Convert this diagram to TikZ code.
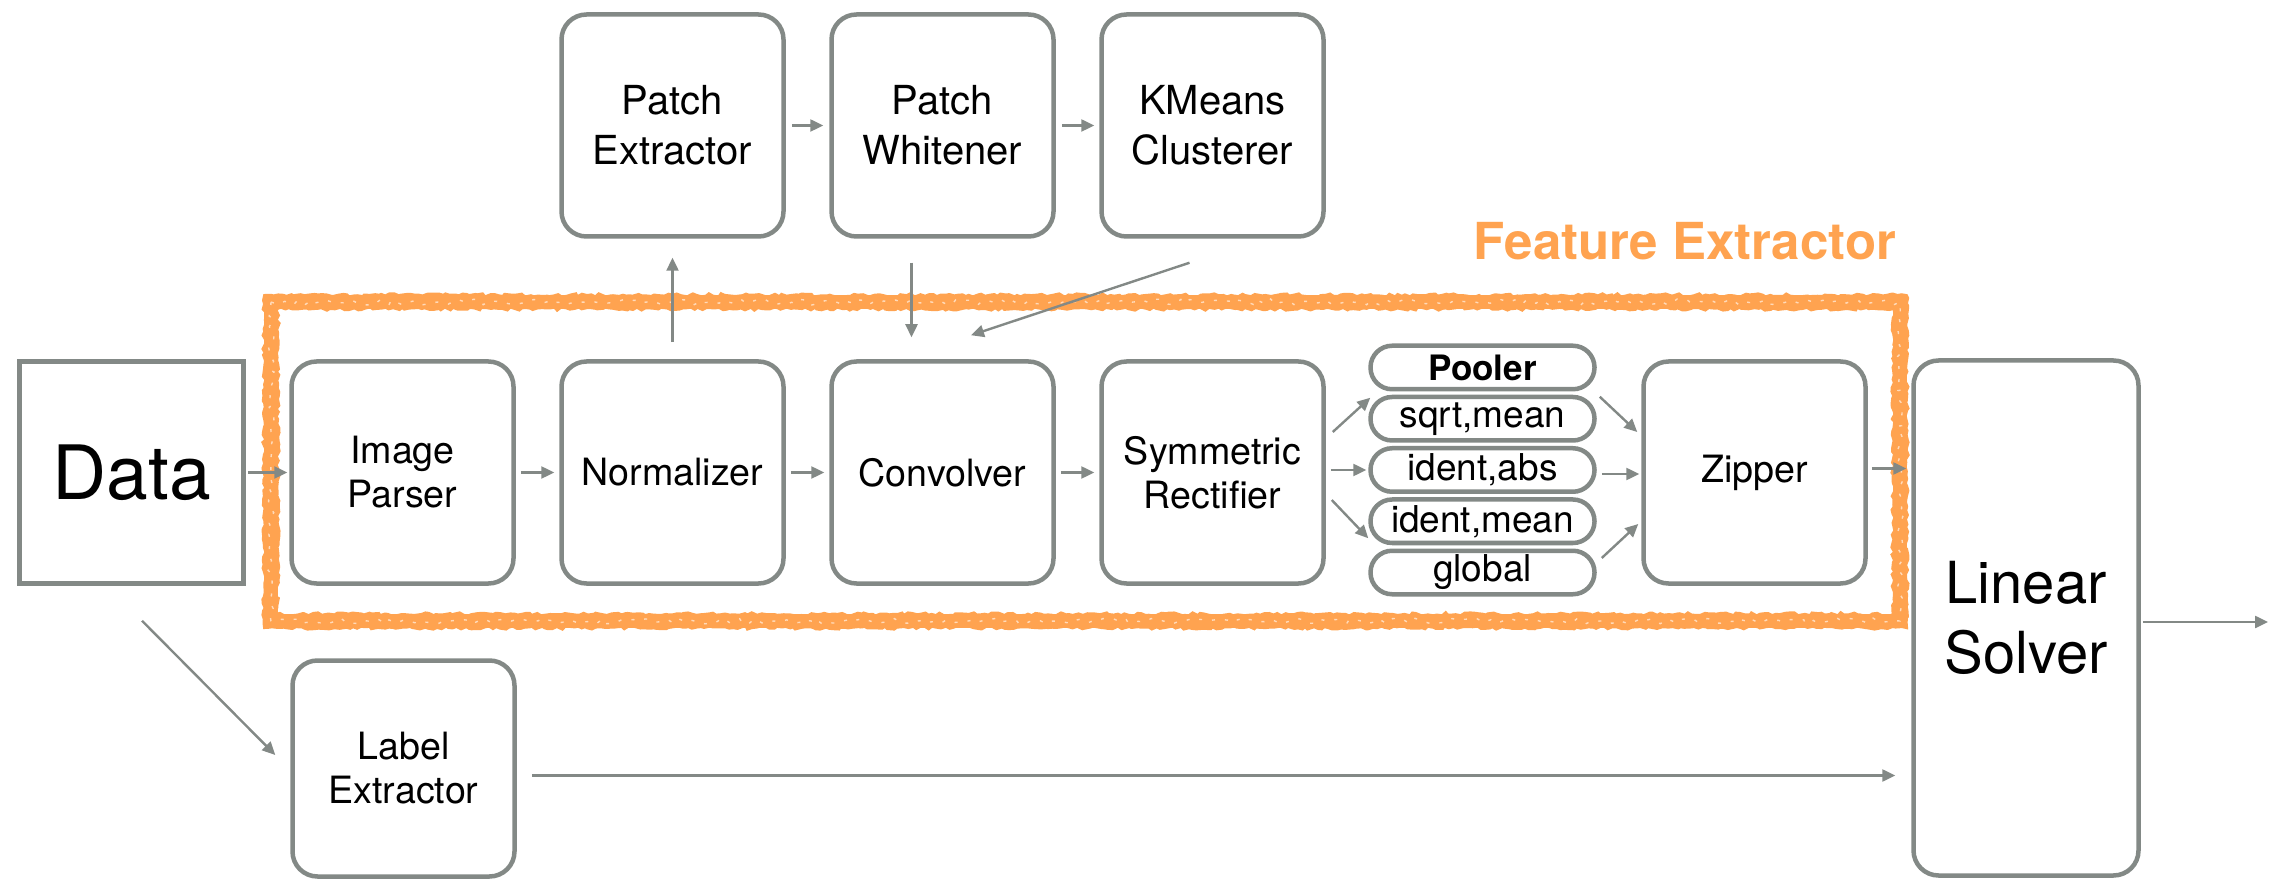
\documentclass[tikz,border=0pt]{standalone}
\usepackage{fontspec}
\setmainfont{TeX Gyre Heros}
\usetikzlibrary{arrows.meta,calc,decorations.pathmorphing}
\definecolor{boxgray}{RGB}{131,137,134}
\definecolor{feorange}{RGB}{255,163,80}
\begin{document}
\begin{tikzpicture}[x=0.5pt,y=-0.5pt,
  base/.style={draw=boxgray, line width=2.25pt, inner sep=0pt, align=center, text=black},
  box/.style={base, rounded corners=12.5pt, minimum width=111pt, minimum height=111pt,
    font=\fontsize{18.8}{22}\selectfont},
  topbox/.style={box, font=\fontsize{20}{25}\selectfont},
  pill/.style={base, rounded corners=10.8pt, minimum width=112pt, minimum height=21.75pt,
    font=\fontsize{18.5}{20}\selectfont},
  arr/.style={draw=boxgray, line width=1.2pt, -{Triangle[length=6.5pt,width=6pt]}},
  rough/.style={feorange, decorate, decoration={random steps, segment length=2pt, amplitude=0.8pt}}
]
\useasboundingbox (0,0) rectangle (2274,881);

% hand-drawn frame of the feature extractor
\pgfmathsetseed{42}
\draw[feorange, line width=7pt] (271,302) rectangle (1900,621);
\draw[rough, line width=2pt] (265,296) rectangle (1906,627);
\draw[rough, line width=2pt] (277,308) rectangle (1894,615);
\draw[white, opacity=0.6, line width=0.7pt, dash pattern=on 1.5pt off 5pt,
  decorate, decoration={random steps, segment length=3pt, amplitude=1.5pt}]
  (271,302) rectangle (1900,621);
\node[anchor=base east, text=feorange, font=\bfseries\fontsize{25.5}{30}\selectfont]
  (felabel) at (1903,260) {Feature Extractor};

% main row
\node[base, minimum width=112pt, minimum height=111pt, font=\fontsize{37.5}{44}\selectfont]
  (data) at (131.5,472.5) {Data};
\node[box] (ip)   at (402.5,472.5)  {Image\\Parser};
\node[box] (norm) at (672.5,472.5)  {Normalizer};
\node[box] (conv) at (942.5,472.5)  {Convolver};
\node[box] (sr)   at (1212.5,472.5) {Symmetric\\Rectifier};
\node[box] (zip)  at (1754.5,472.5) {Zipper};

% pooler stack
\node[pill, font=\bfseries\fontsize{17.5}{20}\selectfont] (p0) at (1482.5,367.5) {Pooler};
\node[pill] (p1) at (1482.5,418.75) {sqrt,mean};
\node[pill] (p2) at (1482.5,470)    {ident,abs};
\node[pill] (p3) at (1482.5,521.25) {ident,mean};
\node[pill] (p4) at (1482.5,572.5)  {global};

% top row
\node[topbox] (pe) at (672.5,125.5)  {Patch\\Extractor};
\node[topbox] (pw) at (942.5,125.5)  {Patch\\Whitener};
\node[topbox] (km) at (1212.5,125.5) {KMeans\\Clusterer};

% bottom and right
\node[box, minimum height=108pt] (le) at (403.5,768.5) {Label\\Extractor};
\node[box, minimum width=112.5pt, minimum height=257.5pt, font=\fontsize{29}{35}\selectfont]
  (ls) at (2026,618) {Linear\\Solver};
\coordinate (out) at (2268,622);

% connectors of the main row
\draw[arr, shorten <=1pt, shorten >=1pt] (data) -- (ip);
\draw[arr, shorten <=2.5pt, shorten >=2.5pt] (ip) -- (norm);
\draw[arr, shorten <=2.5pt, shorten >=2.5pt] (norm) -- (conv);
\draw[arr, shorten <=2.5pt, shorten >=2.5pt] (conv) -- (sr);

% connectors of the top row
\draw[arr, shorten <=3pt, shorten >=3pt] (pe) -- (pw);
\draw[arr, shorten <=3pt, shorten >=2.5pt] (pw) -- (km);
\draw[arr, shorten <=8.5pt, shorten >=9.5pt] (norm.north) -- (pe.south);
\draw[arr, shorten <=12pt, shorten >=11pt] ($(pw.south)+(-31,0)$) -- ($(conv.north)+(-31,0)$);
\draw[arr] ($(km.south)+(-23,24)$) -- ($(conv.north)+(28.5,-24)$);

% rectifier to pooler to zipper
\draw[arr] ($(sr.east)+(7,-40.5)$) -- ($(p1.west)+(2,-21)$);
\draw[arr, shorten <=2.5pt, shorten >=1pt] (sr.east |- p2) -- (p2.west);
\draw[arr] ($(sr.east)+(6,27.5)$) -- ($(p3.west)+(0,17)$);
\draw[arr] ($(p1.east)+(3,-22)$) -- ($(zip.west)+(-4,-40.5)$);
\coordinate (p2o) at ($(p2.east)+(0,4)$);
\draw[arr, shorten <=2.5pt, shorten >=1pt] (p2o) -- (p2o -| zip.west);
\draw[arr] ($(p4.east)+(5,-14.5)$) -- ($(zip.west)+(-3,51.5)$);

% into and out of the solver
\draw[arr, shorten <=2pt, shorten >=2.5pt] ([yshift=2pt]zip.east) -- ([yshift=2pt]zip.east -| ls.west);
\draw[arr, shorten <=1pt] ($(ls.east)+(0,4)$) -- (out);
\coordinate (leo) at ($(le.east)+(15,7)$);
\draw[arr, shorten >=8pt] (leo) -- (leo -| ls.west);
\draw[arr] ($(data.south)+(10.5,35)$) -- ($(le.west)+(-15,-13.5)$);
\end{tikzpicture}
\end{document}
